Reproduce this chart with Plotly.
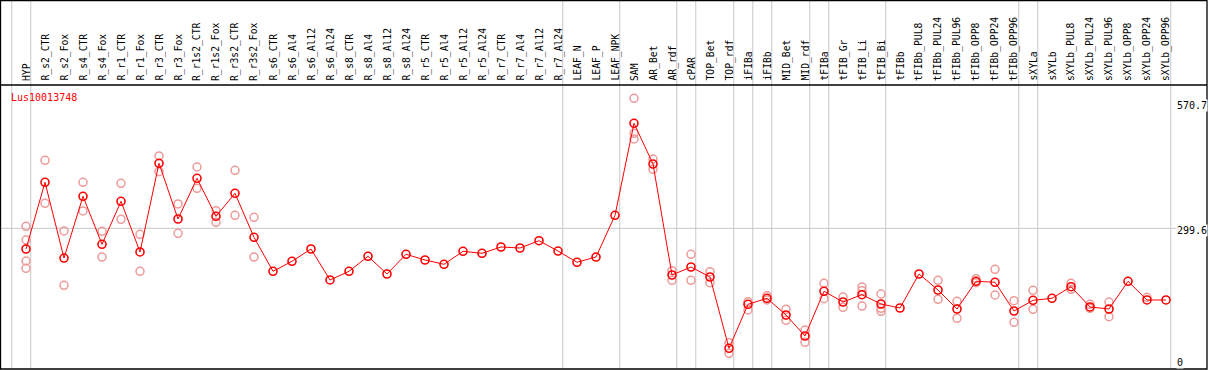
import plotly.graph_objects as go

categories = ["HYP", "R_s2_CTR", "R_s2_Fox", "R_s4_CTR", "R_s4_Fox", "R_r1_CTR", "R_r1_Fox",
              "R_r3_CTR", "R_r3_Fox", "R_r1s2_CTR", "R_r1s2_Fox", "R_r3s2_CTR", "R_r3s2_Fox",
              "R_s6_CTR", "R_s6_Al4", "R_s6_Al12", "R_s6_Al24", "R_s8_CTR", "R_s8_Al4", "R_s8_Al12",
              "R_s8_Al24", "R_r5_CTR", "R_r5_Al4", "R_r5_Al12", "R_r5_Al24", "R_r7_CTR", "R_r7_Al4",
              "R_r7_Al12", "R_r7_Al24", "LEAF_N", "LEAF_P", "LEAF_NPK", "SAM", "AR_Bet", "AR_rdf",
              "cPAR", "TOP_Bet", "TOP_rdf", "iFIBa", "iFIBb", "MID_Bet", "MID_rdf", "tFIBa",
              "tFIB_Gr", "tFIB_Li", "tFIB_Bi", "tFIBb", "tFIBb_PUL8", "tFIBb_PUL24", "tFIBb_PUL96",
              "tFIBb_OPP8", "tFIBb_OPP24", "tFIBb_OPP96", "sXYLa", "sXYLb", "sXYLb_PUL8",
              "sXYLb_PUL24", "sXYLb_PUL96", "sXYLb_OPP8", "sXYLb_OPP24", "sXYLb_OPP96"]

mean_values = [256.5, 395.6, 237.7, 366.4, 266.3, 356.0, 250.3, 435.2, 319.1, 404.0, 324.7,
               372.7, 280.9, 210.0, 230.9, 256.5, 191.9, 210.0, 241.3, 204.4, 245.5, 233.6,
               224.6, 251.7, 247.5, 260.7, 258.6, 273.8, 252.3, 228.8, 239.8, 326.8, 518.7,
               433.8, 202.3, 219.0, 198.1, 49.4, 141.2, 153.7, 118.9, 75.1, 168.3, 146.0,
               161.2, 141.8, 133.5, 204.4, 171.0, 131.4, 189.2, 187.1, 127.2, 149.5, 153.7,
               177.9, 135.6, 131.4, 189.2, 150.2, 150.2]

replicate_values = [
    [303.9, 275.3, 231.5, 216.3], [441.5, 351.8], [294.1, 180.8], [395.6, 335.8],
    [293.4, 239.8], [393.5, 318.5], [287.2, 210.0], [450.5, 417.7], [350.4, 289.3],
    [427.5, 383.1], [336.4, 312.2], [420.6, 326.8], [322.6, 239.8],
    [], [], [], [], [], [], [], [], [], [], [], [], [], [], [], [], [], [], [],
    [570.7, 497.8, 485.9], [444.2, 422.7], [211.3, 191.2], [245.5, 191.2], [209.2, 186.2],
    [61.1, 39.0], [146.6, 129.3], [159.1, 150.2], [130.8, 107.8], [87.6, 61.9],
    [185.0, 152.9], [156.4, 134.9], [177.3, 169.6, 137.6], [162.7, 132.8, 126.6],
    [], [], [191.2, 151.6], [147.4, 112.0], [194.6, 186.2], [214.2, 160.6], [148.7, 103.6],
    [170.4, 130.8], [], [185.0, 172.5], [141.2, 132.8], [146.0, 115.3], [], [155.8], []]

group_ends = [-1, 0, 28, 31, 34, 35, 37, 38, 39, 41, 42, 45, 52, 53, 60]
tick_values = [570.7, 299.6, 0]
tick_labels = ["570.7", "299.6", "0"]
gene_id = "Lus10013748"

W, H = 1209, 370
FONT = "DejaVu Sans Mono"
MEAN_COLOR = "#ff0000"
REP_COLOR = "#ee9a9a"

Y_BOTTOM = 2 * 2.0855
Y_TOP = 372 * 2.0855


def to_paper(v):
    return (v - Y_BOTTOM) / (Y_TOP - Y_BOTTOM)


rep_x, rep_y = [], []
for i, reps in enumerate(replicate_values):
    for v in reps:
        rep_x.append(i)
        rep_y.append(v)

fig = go.Figure()
fig.add_trace(go.Scatter(x=rep_x, y=rep_y, mode="markers",
                         marker=dict(symbol="circle-open", size=8, color=REP_COLOR,
                                     line=dict(width=1.5, color=REP_COLOR)),
                         hoverinfo="skip", showlegend=False))
fig.add_trace(go.Scatter(x=list(range(len(categories))), y=mean_values, mode="lines+markers",
                         line=dict(color=MEAN_COLOR, width=1),
                         marker=dict(symbol="circle-open", size=8, color=MEAN_COLOR,
                                     line=dict(width=1.6, color=MEAN_COLOR)),
                         showlegend=False))

shapes = []
for b in group_ends:
    shapes.append(dict(type="line", xref="x", yref="paper", x0=b + 0.25, x1=b + 0.25,
                       y0=1 - 1 / H, y1=1 - 369 / H, line=dict(color="#c8c8c8", width=1),
                       layer="below"))
shapes.append(dict(type="line", xref="paper", yref="y", x0=0, x1=1207 / W,
                   y0=tick_values[1], y1=tick_values[1], line=dict(color="#c8c8c8", width=1),
                   layer="below"))
shapes.append(dict(type="rect", xref="paper", yref="paper", x0=0.5 / W, x1=1207 / W,
                   y0=1 - 0.5 / H, y1=1 - 369 / H, line=dict(color="black", width=1.3)))
shapes.append(dict(type="line", xref="paper", yref="paper", x0=0, x1=1207 / W,
                   y0=1 - 85 / H, y1=1 - 85 / H, line=dict(color="black", width=1.3)))

annotations = []
for i, c in enumerate(categories):
    annotations.append(dict(x=i, xref="x", y=1 - 83 / H, yref="paper", text=c,
                            textangle=-90, showarrow=False, xanchor="center", yanchor="bottom",
                            font=dict(family=FONT, size=9.7, color="black")))
annotations.append(dict(x=9 / W, xref="paper", y=1 - 97 / H, yref="paper", text=gene_id,
                        showarrow=False, xanchor="left", yanchor="middle",
                        font=dict(family=FONT, size=10, color="red")))
shifts = [-7, -2, 10]
for v, t, s in zip(tick_values, tick_labels, shifts):
    annotations.append(dict(x=1176 / W, xref="paper", y=to_paper(v), yref="paper", text=t,
                            showarrow=False, xanchor="left", yanchor="middle", yshift=s,
                            bgcolor="white", borderpad=0,
                            font=dict(family=FONT, size=10, color="black")))

x0 = -26 / 19
fig.update_layout(
    width=W, height=H, margin=dict(l=0, r=0, t=0, b=0),
    paper_bgcolor="white", plot_bgcolor="white",
    xaxis=dict(range=[x0, x0 + W / 19], visible=False, fixedrange=True),
    yaxis=dict(range=[Y_BOTTOM, Y_TOP], visible=False, fixedrange=True),
    shapes=shapes, annotations=annotations, showlegend=False,
)
fig.write_html("out.html", config={"displayModeBar": False},
               post_script="document.body.style.margin='0';document.body.style.padding='0';")
